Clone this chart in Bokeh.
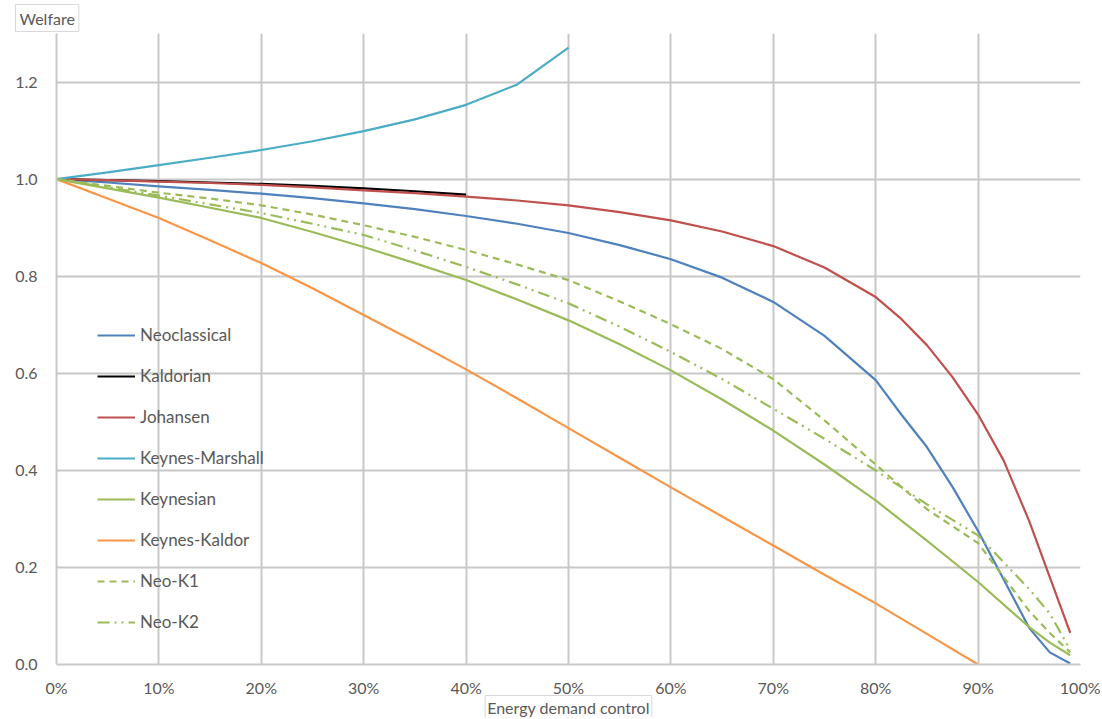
from bokeh.plotting import figure
from bokeh.embed import file_html
from bokeh.resources import INLINE
from bokeh.models import FixedTicker, PrintfTickFormatter, Legend, Title

# ---- data (x in % of energy demand control, y = welfare) ----
pct = [0, 5, 10, 15, 20, 25, 30, 35, 40, 45, 50, 55, 60, 65, 70, 75, 80, 85, 90, 95, 97, 99]

pct_neo = [0, 5, 10, 15, 20, 25, 30, 35, 40, 45, 50, 55, 60, 65, 70, 75, 80, 82.5, 85, 87.5,
           90, 92.5, 95, 97, 99]
neoclassical = [1.0, 0.993, 0.985, 0.978, 0.970, 0.961, 0.950, 0.938, 0.924, 0.908, 0.889, 0.864,
                0.835, 0.797, 0.747, 0.677, 0.586, 0.515, 0.448, 0.366, 0.275, 0.175, 0.075,
                0.025, 0.002]

pct_kaldorian = [0, 5, 10, 15, 20, 25, 30, 35, 40]
kaldorian = [1.0, 0.998, 0.996, 0.993, 0.990, 0.986, 0.981, 0.975, 0.968]

pct_johansen = [0, 5, 10, 15, 20, 25, 30, 35, 40, 45, 50, 55, 60, 65, 70, 75, 80, 82.5, 85, 87.5,
                90, 92.5, 95, 97, 99]
johansen = [1.0, 0.998, 0.995, 0.992, 0.988, 0.983, 0.977, 0.971, 0.964, 0.956, 0.946, 0.932, 0.915,
            0.892, 0.862, 0.818, 0.757, 0.712, 0.658, 0.592, 0.515, 0.420, 0.295, 0.180, 0.065]

pct_marshall = [0, 5, 10, 15, 20, 25, 30, 35, 40, 45, 50]
keynes_marshall = [1.0, 1.014, 1.029, 1.044, 1.060, 1.078, 1.099, 1.123, 1.153, 1.195, 1.271]

keynesian = [1.0, 0.981, 0.962, 0.941, 0.920, 0.891, 0.860, 0.827, 0.792, 0.752, 0.709, 0.660,
             0.606, 0.546, 0.482, 0.412, 0.338, 0.255, 0.170, 0.077, 0.045, 0.019]

pct_kk = [0, 5, 10, 15, 20, 25, 30, 35, 40, 45, 50, 55, 60, 65, 70, 75, 80, 85, 90]
keynes_kaldor = [1.0, 0.960, 0.920, 0.874, 0.827, 0.775, 0.720, 0.665, 0.608, 0.548, 0.487, 0.426,
                 0.365, 0.305, 0.245, 0.185, 0.126, 0.063, 0.0]

neo_k1 = [1.0, 0.986, 0.972, 0.960, 0.946, 0.927, 0.905, 0.881, 0.854, 0.824, 0.792, 0.748,
          0.701, 0.650, 0.588, 0.503, 0.412, 0.320, 0.250, 0.110, 0.065, 0.025]

neo_k2 = [1.0, 0.983, 0.966, 0.948, 0.930, 0.908, 0.885, 0.853, 0.819, 0.783, 0.744, 0.696,
          0.644, 0.588, 0.527, 0.465, 0.400, 0.330, 0.266, 0.155, 0.105, 0.030]

x_ticks = [0, 10, 20, 30, 40, 50, 60, 70, 80, 90, 100]
y_ticks = [0.0, 0.2, 0.4, 0.6, 0.8, 1.0, 1.2]

FONT = "Lato"
TXT = "#595959"
GRID = "#c8c8c8"

p = figure(width=1100, height=717, output_backend="svg", toolbar_location=None,
           x_range=(0, 100), y_range=(0, 1.3),
           min_border_left=56, min_border_right=20, min_border_top=33, min_border_bottom=53)
p.title.visible = False
p.outline_line_color = None
p.background_fill_color = "white"

# axes
p.xaxis.ticker = FixedTicker(ticks=x_ticks)
p.yaxis.ticker = FixedTicker(ticks=y_ticks)
p.xaxis.formatter = PrintfTickFormatter(format="%d%%")
p.yaxis.formatter = PrintfTickFormatter(format="%.1f")
for ax in (p.xaxis, p.yaxis):
    ax.major_tick_line_color = None
    ax.minor_tick_line_color = None
    ax.major_label_text_font = FONT
    ax.major_label_text_font_size = "16px"
    ax.major_label_text_color = TXT
    ax.axis_line_color = GRID
    ax.axis_line_width = 2
p.xaxis.major_label_standoff = 7
p.yaxis.major_label_standoff = 13

p.xgrid.ticker = FixedTicker(ticks=x_ticks)
p.ygrid.ticker = FixedTicker(ticks=y_ticks)
p.grid.grid_line_color = GRID
p.grid.grid_line_width = 2

lw = 2.2
r1 = p.line(pct_neo, neoclassical, line_color="#4F81BD", line_width=lw, line_join="round")
r2 = p.line(pct_kaldorian, kaldorian, line_color="#000000", line_width=lw, line_join="round")
r3 = p.line(pct_johansen, johansen, line_color="#C0504D", line_width=lw, line_join="round")
r4 = p.line(pct_marshall, keynes_marshall, line_color="#4BACC6", line_width=lw, line_join="round")
r5 = p.line(pct, keynesian, line_color="#9BBB59", line_width=lw, line_join="round")
r6 = p.line(pct_kk, keynes_kaldor, line_color="#F79646", line_width=lw, line_join="round")
r7 = p.line(pct, neo_k1, line_color="#9BBB59", line_width=lw, line_dash="7 5")
r8 = p.line(pct, neo_k2, line_color="#9BBB59", line_width=lw, line_dash="12 5 2 5 2 5")

legend = Legend(items=[("Neoclassical", [r1]), ("Kaldorian", [r2]), ("Johansen", [r3]),
                       ("Keynes-Marshall", [r4]), ("Keynesian", [r5]), ("Keynes-Kaldor", [r6]),
                       ("Neo-K1", [r7]), ("Neo-K2", [r8])],
                location=(31, 22))
legend.background_fill_alpha = 0
legend.border_line_alpha = 0
legend.label_text_font = FONT
legend.label_text_font_size = "17px"
legend.label_text_color = TXT
legend.glyph_width = 38
legend.glyph_height = 20
legend.label_height = 20
legend.spacing = 20
legend.padding = 10
legend.label_standoff = 5
p.add_layout(legend, "center")

# y-axis title: boxed text at top-left
ytitle = Title(text="Welfare", align="left", offset=-41, standoff=4,
               text_font=FONT, text_font_size="16px", text_font_style="normal", text_color=TXT,
               background_fill_color="white", border_line_color="#d9d9d9", padding=4)
p.add_layout(ytitle, "above")

# x-axis title: boxed text below the axis
xtitle = Title(text="Energy demand control", align="center", offset=19, standoff=-12,
               text_font=FONT, text_font_size="16px", text_font_style="normal", text_color=TXT,
               background_fill_color="white", border_line_color="#d9d9d9", padding=2)
p.add_layout(xtitle, "below")

open("out.html", "w").write(file_html(p, INLINE))
